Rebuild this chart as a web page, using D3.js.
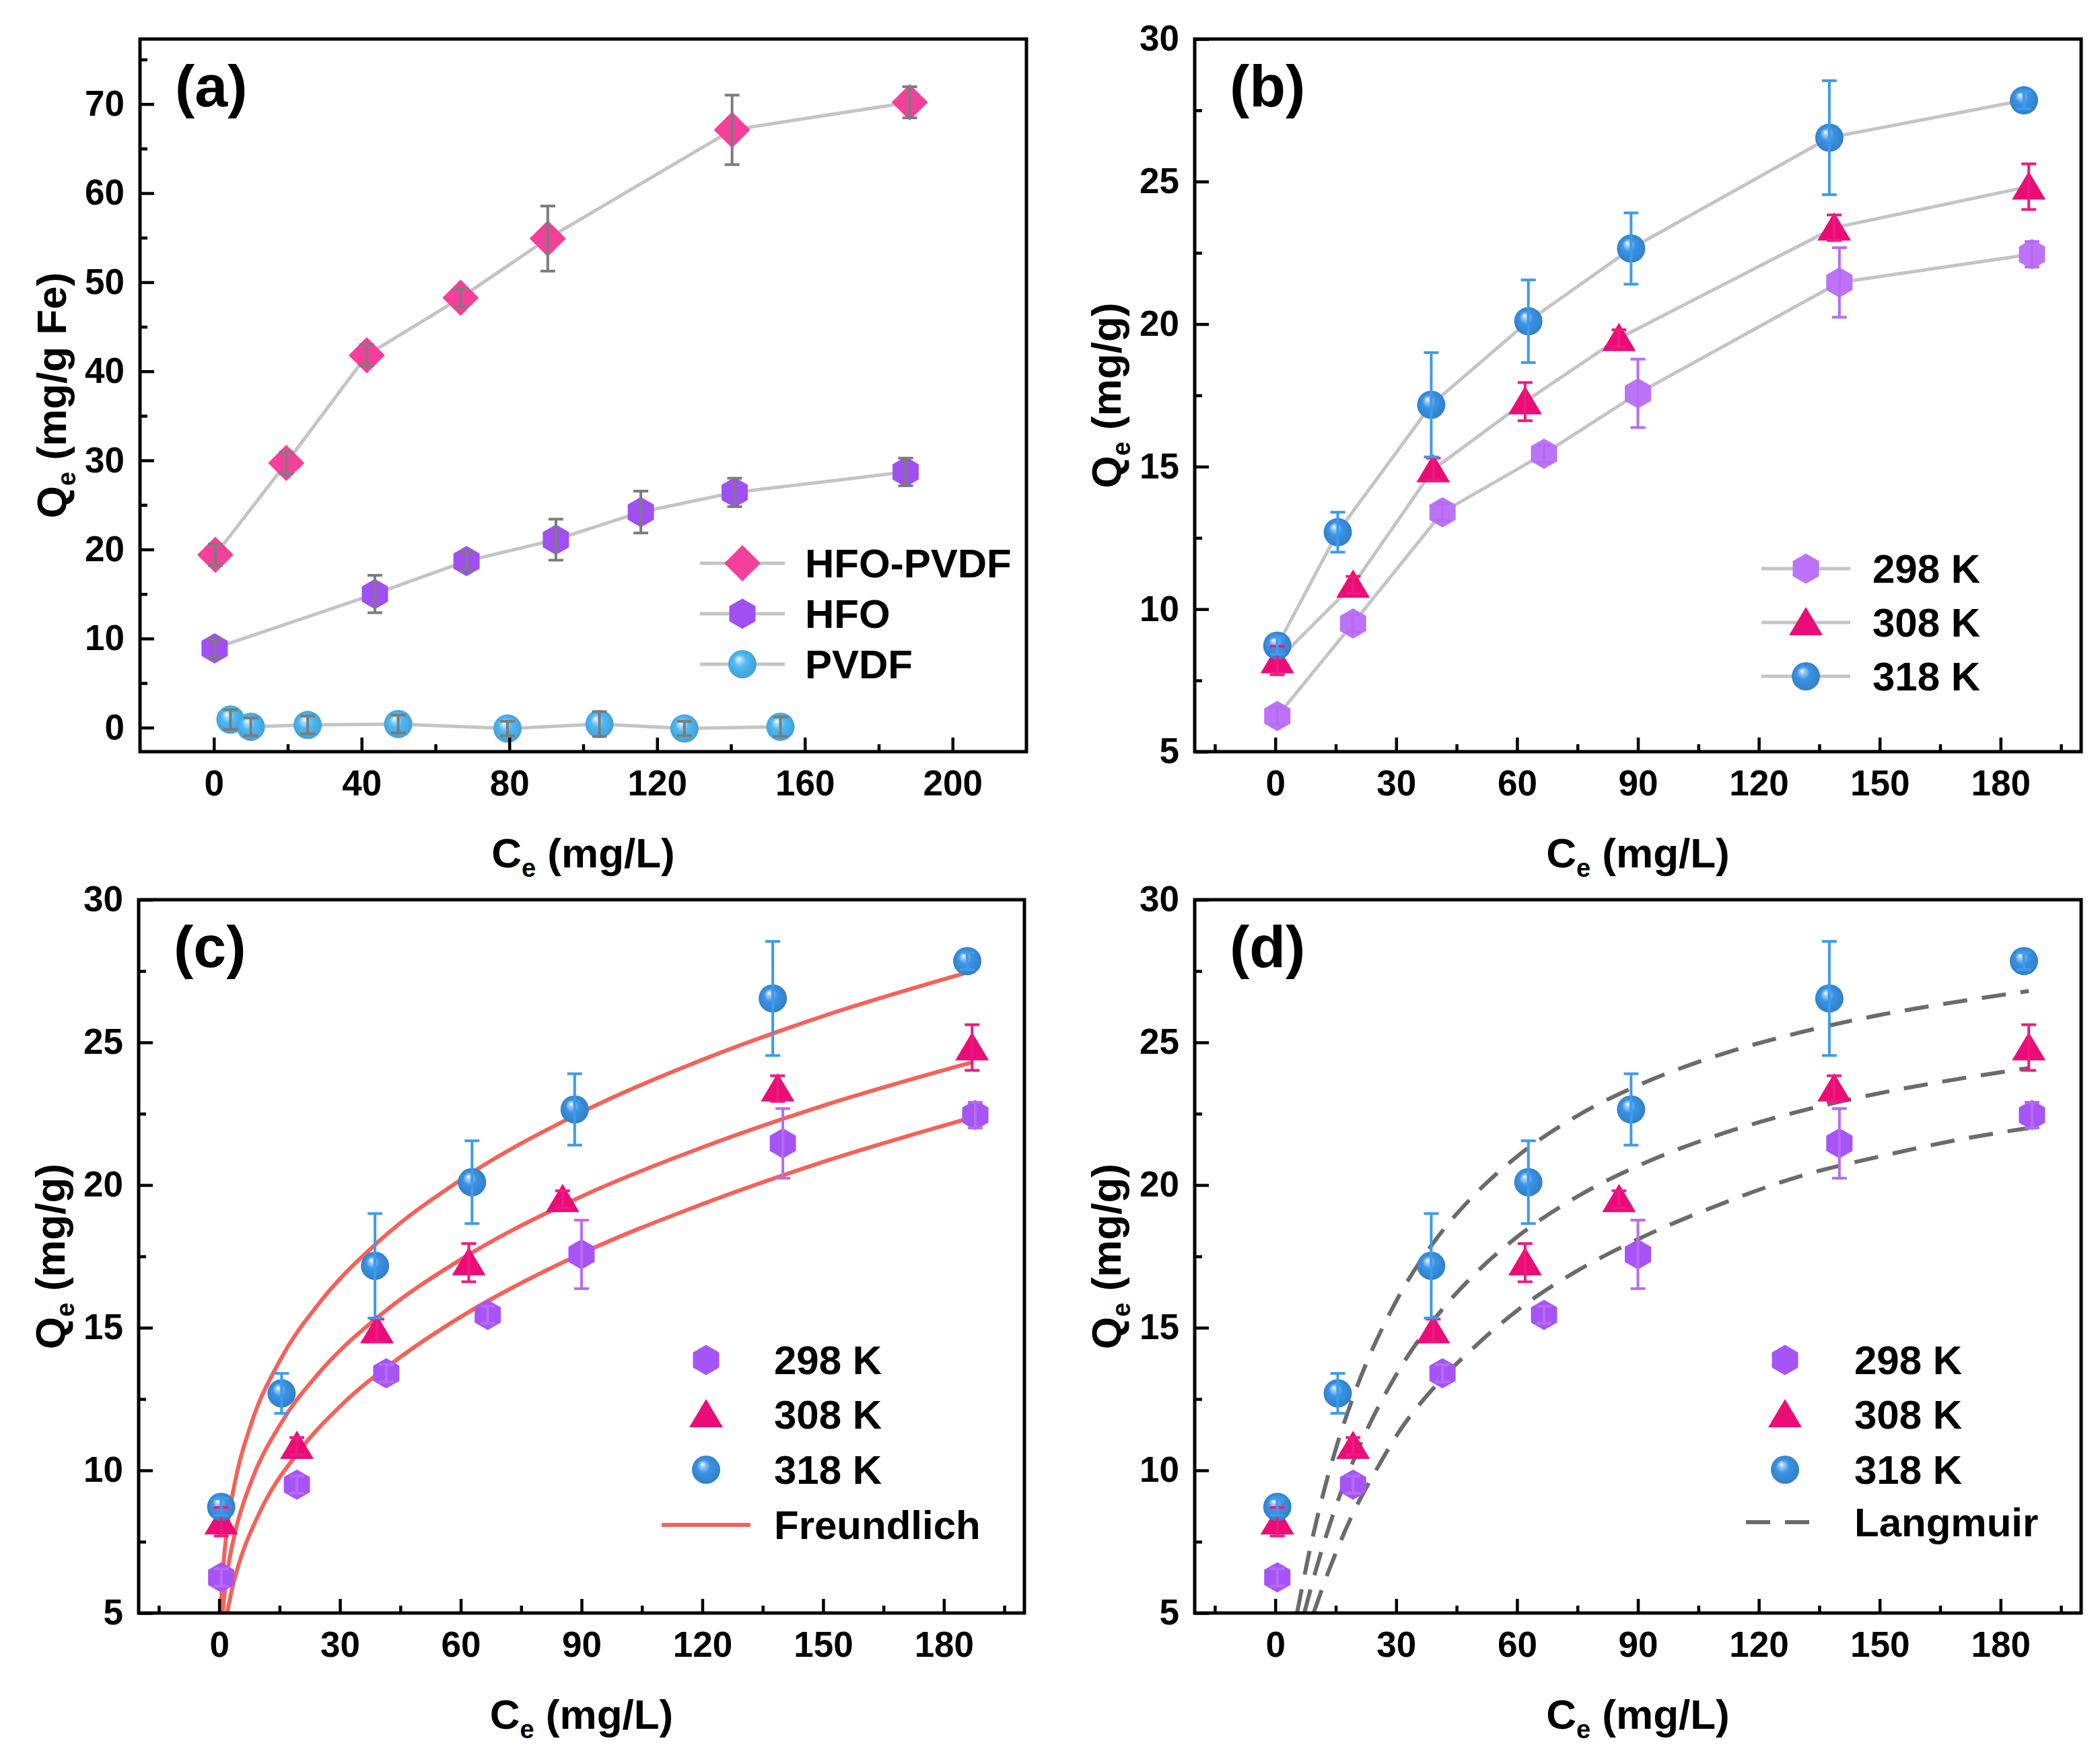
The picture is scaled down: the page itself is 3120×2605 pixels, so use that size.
<!DOCTYPE html>
<html><head><meta charset="utf-8">
<script src="https://cdn.jsdelivr.net/npm/d3@7"></script>
<style>
body{margin:0;background:#fff}
text{font-family:'Liberation Sans',Arial,Helvetica,sans-serif;font-weight:bold;fill:#000}
</style>
</head><body>
<svg id="chart" width="3120" height="2605" xmlns="http://www.w3.org/2000/svg"></svg>
<script>
// ---------------- DATA ----------------
// Panel (a)
const hfoPvdfX = [0.4, 19.6, 41.4, 66.8, 90.4, 140.3, 188.4];
const hfoPvdfY = [19.4, 29.7, 41.8, 48.25, 54.9, 67.1, 70.2];
const hfoPvdfE = [1.2, 1.2, 1.2, 1.0, 3.65, 3.9, 1.75];
const hfoX = [0.2, 43.6, 68.4, 92.6, 115.6, 141, 187.3];
const hfoY = [8.9, 15.0, 18.7, 21.1, 24.2, 26.4, 28.7];
const hfoE = [1.0, 2.1, 1.0, 2.3, 2.35, 1.6, 1.55];
const pvdfX = [4.5, 10, 25.4, 49.9, 79.5, 104.4, 127.4, 153.4];
const pvdfY = [0.9, 0.1, 0.3, 0.4, -0.1, 0.4, -0.1, 0.1];
const pvdfE = [1.1, 1.0, 1.0, 1.0, 0.8, 1.4, 0.8, 1.1];

// Panels (b)-(d): isotherms at three temperatures
const x298 = [0.5, 19.3, 41.5, 66.7, 90.0, 140.0, 187.8];
const y298 = [6.25, 9.5, 13.4, 15.45, 17.57, 21.46, 22.45];
const e298 = [0.3, 0.3, 0.3, 0.3, 1.2, 1.22, 0.45];
const x308 = [0.5, 19.3, 39.2, 62.0, 85.3, 138.7, 187.0];
const y308 = [8.2, 10.85, 14.9, 17.28, 19.5, 23.38, 24.82];
const e308 = [0.5, 0.3, 0.4, 0.67, 0.3, 0.45, 0.8];
const x318 = [0.5, 15.5, 38.7, 62.8, 88.3, 137.5, 185.8];
const y318 = [8.72, 12.7, 17.17, 20.1, 22.65, 26.54, 27.85];
const e318 = [0.3, 0.7, 1.83, 1.45, 1.25, 2.0, 0.3];

// Freundlich fit curves
const frX298 = [2, 3, 5, 10, 20, 30, 45, 60, 90, 120, 150, 187];
const frY298 = [5.0, 5.72, 6.77, 8.51, 10.7, 12.24, 13.97, 15.38, 17.6, 19.33, 20.81, 22.37];
const frX308 = [0.86, 1, 2, 4, 8, 15, 25, 40, 60, 90, 120, 150, 187];
const frY308 = [5.0, 5.22, 6.4, 7.85, 9.62, 11.57, 13.45, 15.44, 17.39, 19.6, 21.32, 22.78, 24.3];
const frX318 = [0.35, 1, 2, 4, 8, 15, 25, 40, 60, 90, 120, 150, 187];
const frY318 = [5.0, 6.6, 7.98, 9.64, 11.65, 13.83, 15.89, 18.07, 20.18, 22.55, 24.39, 25.92, 27.5];

// Langmuir fit curves
const lgX298 = [9.5, 12, 15, 20, 25, 30, 40, 50, 60, 75, 90, 110, 130, 150, 170, 187];
const lgY298 = [5.0, 6.0, 7.1, 8.7, 10.0, 11.2, 13.0, 14.4, 15.6, 17.0, 18.1, 19.3, 20.3, 21.0, 21.6, 22.0];
const lgX308 = [7.2, 10, 15, 20, 30, 40, 50, 60, 75, 90, 110, 130, 150, 170, 187];
const lgY308 = [5.0, 6.47, 8.72, 10.55, 13.35, 15.39, 16.95, 18.18, 19.6, 20.67, 21.76, 22.58, 23.22, 23.73, 24.1];
const lgX318 = [5.4, 8, 12, 16, 20, 30, 40, 50, 60, 75, 90, 110, 130, 150, 170, 187];
const lgY318 = [5.0, 6.84, 9.24, 11.2, 12.83, 15.93, 18.12, 19.74, 21.0, 22.43, 23.49, 24.55, 25.34, 25.96, 26.44, 26.8];

// Tick values
const xTicksA = [0, 40, 80, 120, 160, 200];
const xMinorA = [20, 60, 100, 140, 180];
const yTicksA = [0, 10, 20, 30, 40, 50, 60, 70];
const yMinorA = [5, 15, 25, 35, 45, 55, 65, 75];
const xTicksB = [0, 30, 60, 90, 120, 150, 180];
const xMinorB = [-15, 15, 45, 75, 105, 135, 165, 195];
const yTicksB = [5, 10, 15, 20, 25, 30];
const yMinorB = [7.5, 12.5, 17.5, 22.5, 27.5];

// Labels
const panelLabels = ["(a)", "(b)", "(c)", "(d)"];
const legendA = ["HFO-PVDF", "HFO", "PVDF"];
const legendT = ["298 K", "308 K", "318 K"];
const fitNames = ["Freundlich", "Langmuir"];

// ---------------- STYLE / LAYOUT ----------------
const C = {
  pink: "#F5409B", purpleA: "#A04FF2", pvdf: "#4DB9F6",
  p298b: "#BC73F8", p298: "#A654F6", t308: "#EC0C78", s318: "#3A93E6",
  line: "#C4C4C4", errA: "#7C7C7C", e298: "#B86AF6", e308: "#EE1A7F", e318: "#3D9BEA",
  fr: "#F4625A", lg: "#6B6B6B"
};
const TICK_FONT = 53, TITLE_FONT = 62, LEG_FONT = 60, LABEL_FONT = 88;

const svg = d3.select("#chart");
svg.append("rect").attr("width", 3120).attr("height", 2605).attr("fill", "#fff");
const defs = svg.append("defs");

function sphereGrad(id, base) {
  const g = defs.append("radialGradient").attr("id", id)
    .attr("cx", "50%").attr("cy", "50%").attr("r", "55%").attr("fx", "36%").attr("fy", "30%");
  const c = d3.color(base);
  g.append("stop").attr("offset", "0%").attr("stop-color", "#ffffff");
  g.append("stop").attr("offset", "14%").attr("stop-color", d3.interpolateRgb(base, "#fff")(0.55));
  g.append("stop").attr("offset", "42%").attr("stop-color", base);
  g.append("stop").attr("offset", "100%").attr("stop-color", c.darker(0.45).formatHex());
}
sphereGrad("gPvdf", C.pvdf);
sphereGrad("g318", C.s318);

function symPath(type) {
  if (type === "diamond") { const r = 27; return `M0,${-r}L${r},0L0,${r}L${-r},0Z`; }
  if (type === "hex") {
    const R = 22.5; let p = "";
    for (let k = 0; k < 6; k++) {
      const a = (-90 + 60 * k) * Math.PI / 180;
      p += (k ? "L" : "M") + (R * Math.cos(a)).toFixed(2) + "," + (R * Math.sin(a)).toFixed(2);
    }
    return p + "Z";
  }
  if (type === "tri") return "M0,-23L25,19L-25,19Z";
  return null;
}
function drawSymbol(g, type, fill, cx, cy) {
  if (type === "sphere") {
    g.append("circle").attr("cx", cx).attr("cy", cy).attr("r", 21).attr("fill", fill);
  } else {
    g.append("path").attr("d", symPath(type)).attr("transform", `translate(${cx},${cy})`).attr("fill", fill);
  }
}

const layout = {
  a: { l: 208, r: 1525, t: 58, b: 1117 },
  b: { l: 1775, r: 3092, t: 58, b: 1117 },
  c: { l: 206, r: 1522, t: 1337, b: 2397 },
  d: { l: 1775, r: 3092, t: 1337, b: 2397 }
};

function makePanel(key, idx, xDom, yDom, xt, xm, yt, ym, yUnit) {
  const L = layout[key];
  const x = d3.scaleLinear().domain(xDom).range([L.l, L.r]);
  const y = d3.scaleLinear().domain(yDom).range([L.b, L.t]);
  const g = svg.append("g");
  defs.append("clipPath").attr("id", "clip" + key).append("rect")
    .attr("x", L.l).attr("y", L.t).attr("width", L.r - L.l).attr("height", L.b - L.t);
  const plot = g.append("g").attr("clip-path", `url(#clip${key})`);
  const over = g.append("g");

  // axes (ticks inside)
  over.append("g").attr("transform", `translate(0,${L.b})`)
    .call(d3.axisBottom(x).tickValues(xt).tickSizeInner(-21).tickSizeOuter(0).tickPadding(27).tickFormat(d3.format("d")));
  over.append("g").attr("transform", `translate(0,${L.b})`)
    .call(d3.axisBottom(x).tickValues(xm).tickSizeInner(-11).tickSizeOuter(0).tickFormat(""));
  over.append("g").attr("transform", `translate(${L.l},0)`)
    .call(d3.axisLeft(y).tickValues(yt).tickSizeInner(-21).tickSizeOuter(0).tickPadding(23).tickFormat(d3.format("d")));
  over.append("g").attr("transform", `translate(${L.l},0)`)
    .call(d3.axisLeft(y).tickValues(ym).tickSizeInner(-11).tickSizeOuter(0).tickFormat(""));
  over.selectAll(".domain").remove();
  over.selectAll(".tick line").attr("stroke", "#000").attr("stroke-width", 4.5);
  over.selectAll(".tick text").attr("font-size", TICK_FONT).attr("font-family", "'Liberation Sans',Arial,sans-serif").attr("font-weight", "bold").attr("fill", "#000");
  // frame
  over.append("rect").attr("x", L.l).attr("y", L.t).attr("width", L.r - L.l).attr("height", L.b - L.t)
    .attr("fill", "none").attr("stroke", "#000").attr("stroke-width", 5);

  // x title
  const xtt = over.append("text").attr("x", (L.l + L.r) / 2).attr("y", L.b + 172)
    .attr("text-anchor", "middle").attr("font-size", TITLE_FONT);
  xtt.append("tspan").text("C");
  xtt.append("tspan").attr("font-size", 38).attr("dy", 14).text("e");
  xtt.append("tspan").attr("dy", -14).text(" (mg/L)");
  // y title
  const ytt = over.append("text").attr("transform", `translate(${L.l - 110},${(L.t + L.b) / 2}) rotate(-90)`)
    .attr("text-anchor", "middle").attr("font-size", TITLE_FONT);
  ytt.append("tspan").text("Q");
  ytt.append("tspan").attr("font-size", 38).attr("dy", 14).text("e");
  ytt.append("tspan").attr("dy", -14).text(yUnit);
  // panel label
  over.append("text").attr("x", L.l + 52).attr("y", L.t + 100).attr("font-size", LABEL_FONT).text(panelLabels[idx]);

  return { x, y, plot, over, L };
}

function series(P, xs, ys, es, type, fill, opts) {
  const pts = xs.map((v, i) => ({ x: v, y: ys[i], e: es[i] }));
  if (opts.line) {
    P.plot.append("path").datum(pts)
      .attr("d", d3.line().x(d => P.x(d.x)).y(d => P.y(d.y)))
      .attr("fill", "none").attr("stroke", C.line).attr("stroke-width", 5);
  }
  const mg = P.plot.append("g");
  pts.forEach(d => drawSymbol(mg, type, fill, P.x(d.x), P.y(d.y)));
  return pts;
}
function errorBars(P, pts, color) {
  const eg = P.plot.append("g").attr("stroke", color).attr("stroke-width", 4).attr("fill", "none");
  pts.forEach(d => {
    const cx = P.x(d.x), y1 = P.y(d.y - d.e), y2 = P.y(d.y + d.e);
    eg.append("line").attr("x1", cx).attr("x2", cx).attr("y1", y1).attr("y2", y2);
    eg.append("line").attr("x1", cx - 11).attr("x2", cx + 11).attr("y1", y1).attr("y2", y1);
    eg.append("line").attr("x1", cx - 11).attr("x2", cx + 11).attr("y1", y2).attr("y2", y2);
  });
}
function fitCurve(P, xs, ys, color, dash) {
  const pts = xs.map((v, i) => [v, ys[i]]);
  P.plot.append("path").datum(pts)
    .attr("d", d3.line().x(d => P.x(d[0])).y(d => P.y(d[1])).curve(d3.curveMonotoneX))
    .attr("fill", "none").attr("stroke", color).attr("stroke-width", 6)
    .attr("stroke-dasharray", dash ? "36,22" : null);
}
function legend(P, items, lx, rowY, textX, lineSpan) {
  items.forEach((it, i) => {
    const g = P.over.append("g");
    const cy = rowY[i];
    if (it.line) {
      g.append("line").attr("x1", lx - lineSpan).attr("x2", lx + lineSpan).attr("y1", cy).attr("y2", cy)
        .attr("stroke", it.line).attr("stroke-width", it.fit ? 6 : 5).attr("stroke-dasharray", it.dash ? "36,22" : null);
    }
    if (it.type) drawSymbol(g, it.type, it.fill, lx, cy);
    g.append("text").attr("x", textX).attr("y", cy + 21).attr("font-size", LEG_FONT).text(it.label);
  });
}

// ---------------- PANEL (a) ----------------
const A = makePanel("a", 0, [-20, 220], [-2.7, 77.3], xTicksA, xMinorA, yTicksA, yMinorA, " (mg/g Fe)");
const pA1 = series(A, hfoPvdfX, hfoPvdfY, hfoPvdfE, "diamond", C.pink, { line: true });
const pA2 = series(A, hfoX, hfoY, hfoE, "hex", C.purpleA, { line: true });
const pA3 = series(A, pvdfX, pvdfY, pvdfE, "sphere", "url(#gPvdf)", { line: true });
errorBars(A, pA1, C.errA); errorBars(A, pA2, C.errA); errorBars(A, pA3, C.errA);
legend(A, [
  { label: legendA[0], type: "diamond", fill: C.pink, line: C.line },
  { label: legendA[1], type: "hex", fill: C.purpleA, line: C.line },
  { label: legendA[2], type: "sphere", fill: "url(#gPvdf)", line: C.line }
], 1103, [837, 912, 987], 1196, 63);

// ---------------- PANEL (b) ----------------
const B = makePanel("b", 1, [-20, 200], [5, 30], xTicksB, xMinorB, yTicksB, yMinorB, " (mg/g)");
const pB1 = series(B, x298, y298, e298, "hex", C.p298b, { line: true });
const pB2 = series(B, x308, y308, e308, "tri", C.t308, { line: true });
const pB3 = series(B, x318, y318, e318, "sphere", "url(#g318)", { line: true });
errorBars(B, pB1, C.e298); errorBars(B, pB2, C.e308); errorBars(B, pB3, C.e318);
legend(B, [
  { label: legendT[0], type: "hex", fill: C.p298b, line: C.line },
  { label: legendT[1], type: "tri", fill: C.t308, line: C.line },
  { label: legendT[2], type: "sphere", fill: "url(#g318)", line: C.line }
], 2683, [845, 925, 1005], 2782, 66);

// ---------------- PANEL (c) ----------------
const Cp = makePanel("c", 2, [-20, 200], [5, 30], xTicksB, xMinorB, yTicksB, yMinorB, " (mg/g)");
fitCurve(Cp, frX298, frY298, C.fr, false);
fitCurve(Cp, frX308, frY308, C.fr, false);
fitCurve(Cp, frX318, frY318, C.fr, false);
const pC1 = series(Cp, x298, y298, e298, "hex", C.p298, { line: false });
const pC2 = series(Cp, x308, y308, e308, "tri", C.t308, { line: false });
const pC3 = series(Cp, x318, y318, e318, "sphere", "url(#g318)", { line: false });
errorBars(Cp, pC1, C.e298); errorBars(Cp, pC2, C.e308); errorBars(Cp, pC3, C.e318);
legend(Cp, [
  { label: legendT[0], type: "hex", fill: C.p298 },
  { label: legendT[1], type: "tri", fill: C.t308 },
  { label: legendT[2], type: "sphere", fill: "url(#g318)" },
  { label: fitNames[0], line: C.fr, fit: true }
], 1049, [2021, 2102, 2184, 2266], 1150, 66);

// ---------------- PANEL (d) ----------------
const D = makePanel("d", 3, [-20, 200], [5, 30], xTicksB, xMinorB, yTicksB, yMinorB, " (mg/g)");
fitCurve(D, lgX298, lgY298, C.lg, true);
fitCurve(D, lgX308, lgY308, C.lg, true);
fitCurve(D, lgX318, lgY318, C.lg, true);
const pD1 = series(D, x298, y298, e298, "hex", C.p298, { line: false });
const pD2 = series(D, x308, y308, e308, "tri", C.t308, { line: false });
const pD3 = series(D, x318, y318, e318, "sphere", "url(#g318)", { line: false });
errorBars(D, pD1, C.e298); errorBars(D, pD2, C.e308); errorBars(D, pD3, C.e318);
legend(D, [
  { label: legendT[0], type: "hex", fill: C.p298 },
  { label: legendT[1], type: "tri", fill: C.t308 },
  { label: legendT[2], type: "sphere", fill: "url(#g318)" },
  { label: fitNames[1], line: C.lg, dash: true, fit: true }
], 2652, [2021, 2102, 2184, 2262], 2755, 58);
</script>
</body></html>
